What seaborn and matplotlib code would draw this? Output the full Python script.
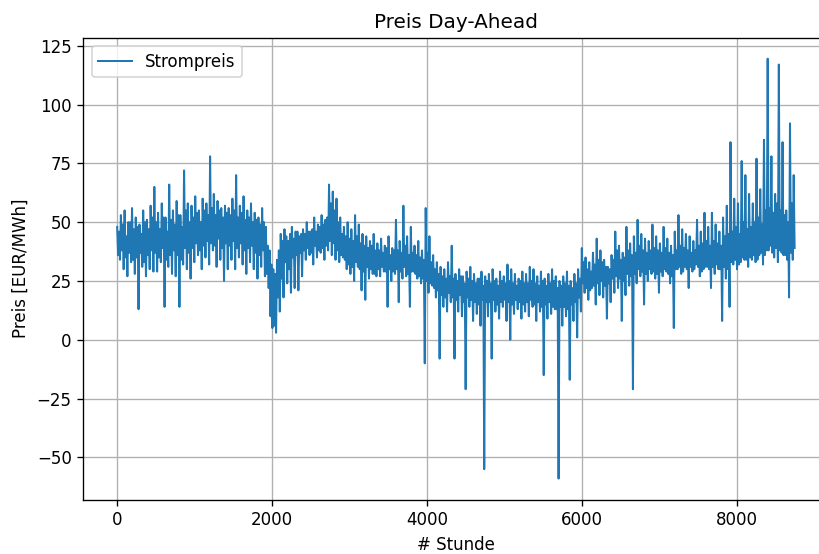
#!/usr/bin/env python3

import matplotlib
matplotlib.use("Agg")
from matplotlib import pyplot as plt
import numpy as np
import pandas as pd
import seaborn as sns

# Day-ahead price, one high (hour 24*d) and one
# low (hour 24*d + 12) per day, ten days per row.
day_high = [
    48, 46, 53, 49, 55, 44, 50, 50, 56, 47,
    52, 48, 49, 45, 55, 50, 51, 47, 57, 52,
    65, 50, 54, 47, 58, 52, 52, 46, 66, 51,
    55, 49, 59, 53, 53, 48, 72, 55, 58, 50,
    57, 52, 61, 54, 55, 50, 60, 55, 58, 53,
    78, 56, 62, 53, 59, 55, 56, 52, 57, 54,
    56, 53, 60, 55, 70, 52, 57, 54, 61, 51,
    55, 52, 58, 50, 54, 51, 52, 49, 56, 50,
    48, 40, 38, 32, 30, 28, 34, 38, 45, 42,
    47, 44, 42, 45, 48, 43, 46, 46, 44, 45,
    47, 45, 50, 46, 46, 47, 52, 46, 49, 48,
    53, 49, 51, 52, 66, 58, 63, 55, 60, 50,
    52, 45, 48, 44, 50, 43, 47, 42, 53, 44,
    49, 41, 45, 40, 44, 39, 42, 40, 45, 38,
    41, 38, 43, 37, 40, 39, 44, 36, 39, 38,
    51, 38, 42, 37, 57, 40, 44, 36, 48, 37,
    40, 36, 42, 35, 38, 34, 56, 37, 44, 33,
    36, 30, 33, 28, 31, 27, 30, 26, 33, 27,
    40, 26, 28, 25, 30, 27, 27, 24, 29, 26,
    31, 25, 28, 24, 26, 26, 29, 23, 27, 25,
    28, 24, 30, 25, 26, 23, 29, 25, 27, 24,
    32, 25, 30, 24, 28, 23, 26, 25, 29, 24,
    28, 24, 31, 25, 30, 24, 27, 23, 29, 25,
    26, 23, 28, 24, 30, 25, 27, 22, 25, 23,
    27, 24, 29, 23, 25, 22, 28, 24, 30, 26,
    39, 33, 35, 30, 33, 29, 37, 32, 43, 34,
    38, 33, 34, 31, 31, 30, 36, 34, 46, 38,
    40, 34, 37, 35, 48, 38, 41, 36, 44, 37,
    51, 40, 45, 38, 43, 37, 42, 38, 49, 39,
    44, 38, 41, 37, 48, 39, 43, 37, 40, 36,
    46, 38, 53, 40, 47, 39, 45, 38, 44, 37,
    42, 38, 51, 40, 46, 41, 54, 42, 48, 40,
    54, 42, 49, 41, 46, 40, 52, 44, 57, 45,
    84, 46, 60, 48, 58, 45, 76, 50, 70, 47,
    62, 48, 58, 50, 77, 52, 64, 49, 85, 55,
    119.5, 56, 78, 54, 62, 58, 117, 55, 84, 53,
    55, 50, 92, 58, 70,
]
day_low = [
    36, 34, 38, 30, 35, 27, 37, 33, 34, 28,
    35, 13, 37, 31, 33, 27, 36, 30, 38, 29,
    37, 29, 35, 33, 39, 14, 34, 31, 36, 28,
    38, 27, 36, 14, 34, 32, 39, 30, 37, 26,
    39, 33, 41, 36, 38, 30, 40, 35, 42, 32,
    41, 38, 40, 31, 43, 34, 39, 25, 41, 30,
    40, 34, 42, 30, 39, 35, 41, 32, 38, 28,
    39, 33, 40, 30, 37, 26, 36, 31, 38, 27,
    28, 22, 10, 5, 6, 3, 18, 12, 26, 18,
    33, 24, 30, 20, 35, 22, 36, 21, 37, 27,
    38, 34, 39, 36, 37, 32, 40, 35, 38, 37,
    39, 34, 40, 38, 42, 36, 41, 34, 38, 33,
    36, 35, 34, 30, 32, 28, 31, 25, 33, 31,
    30, 21, 29, 17, 31, 26, 30, 28, 28, 27,
    30, 27, 31, 29, 29, 14, 30, 25, 29, 28,
    30, 16, 29, 26, 31, 27, 28, 14, 29, 29,
    28, 26, 27, 24, 26, -10, 25, 20, 24, 23,
    22, 18, 21, -8, 19, 14, 18, 12, 20, 16,
    18, -8, 17, 12, 19, 10, 16, -21, 18, 14,
    17, 8, 16, 11, 15, 6, 17, -55, 16, 10,
    16, -8, 17, 12, 15, 9, 16, 14, 17, 8,
    16, 0, 15, 11, 17, 13, 16, 9, 15, 12,
    16, 10, 17, 14, 15, 8, 16, 12, 14, -15,
    15, 9, 16, 11, 14, 13, 13, -59, 14, 6,
    14, 10, 13, -17, 15, 8, 16, 1, 18, 12,
    24, 20, 22, 17, 21, 22, 23, 15, 24, 19,
    25, 18, 23, 9, 24, 16, 26, 20, 27, 22,
    26, 8, 25, 19, 28, 23, 27, -21, 28, 24,
    30, 27, 29, 15, 28, 25, 30, 28, 29, 26,
    28, 20, 29, 27, 30, 29, 28, 24, 27, 5,
    30, 30, 31, 28, 29, 31, 30, 22, 31, 29,
    30, 32, 31, 27, 29, 30, 31, 31, 30, 22,
    31, 28, 32, 30, 30, 8, 31, 26, 30, 14,
    33, 32, 34, 30, 32, 33, 35, 34, 34, 31,
    35, 34, 36, 33, 34, 36, 37, 32, 36, 38,
    38, 40, 37, 35, 39, 33, 38, 37, 36, 36,
    34, 18, 37, 34, 39,
]


def main():
    price = np.column_stack([day_high, day_low]).ravel()
    hours = np.arange(len(price)) * 12
    df = pd.DataFrame({"Stunde": hours, "Preis": price})

    fig = plt.figure(figsize=(819 / 120, 554 / 120), dpi=120)
    ax = fig.add_axes([0.1017, 0.0982, 0.9099, 0.8338])

    sns.lineplot(df, x="Stunde", y="Preis", label="Strompreis",
                 color="#1f77b4", linewidth=1.2, ax=ax)

    ax.grid(True)
    ax.set_title("Preis Day-Ahead")
    ax.set_xlabel("# Stunde")
    ax.set_ylabel("Preis [EUR/MWh]")
    ax.legend(loc="upper left")

    fig.savefig("out.png", dpi=120)


if __name__ == "__main__":
    main()
